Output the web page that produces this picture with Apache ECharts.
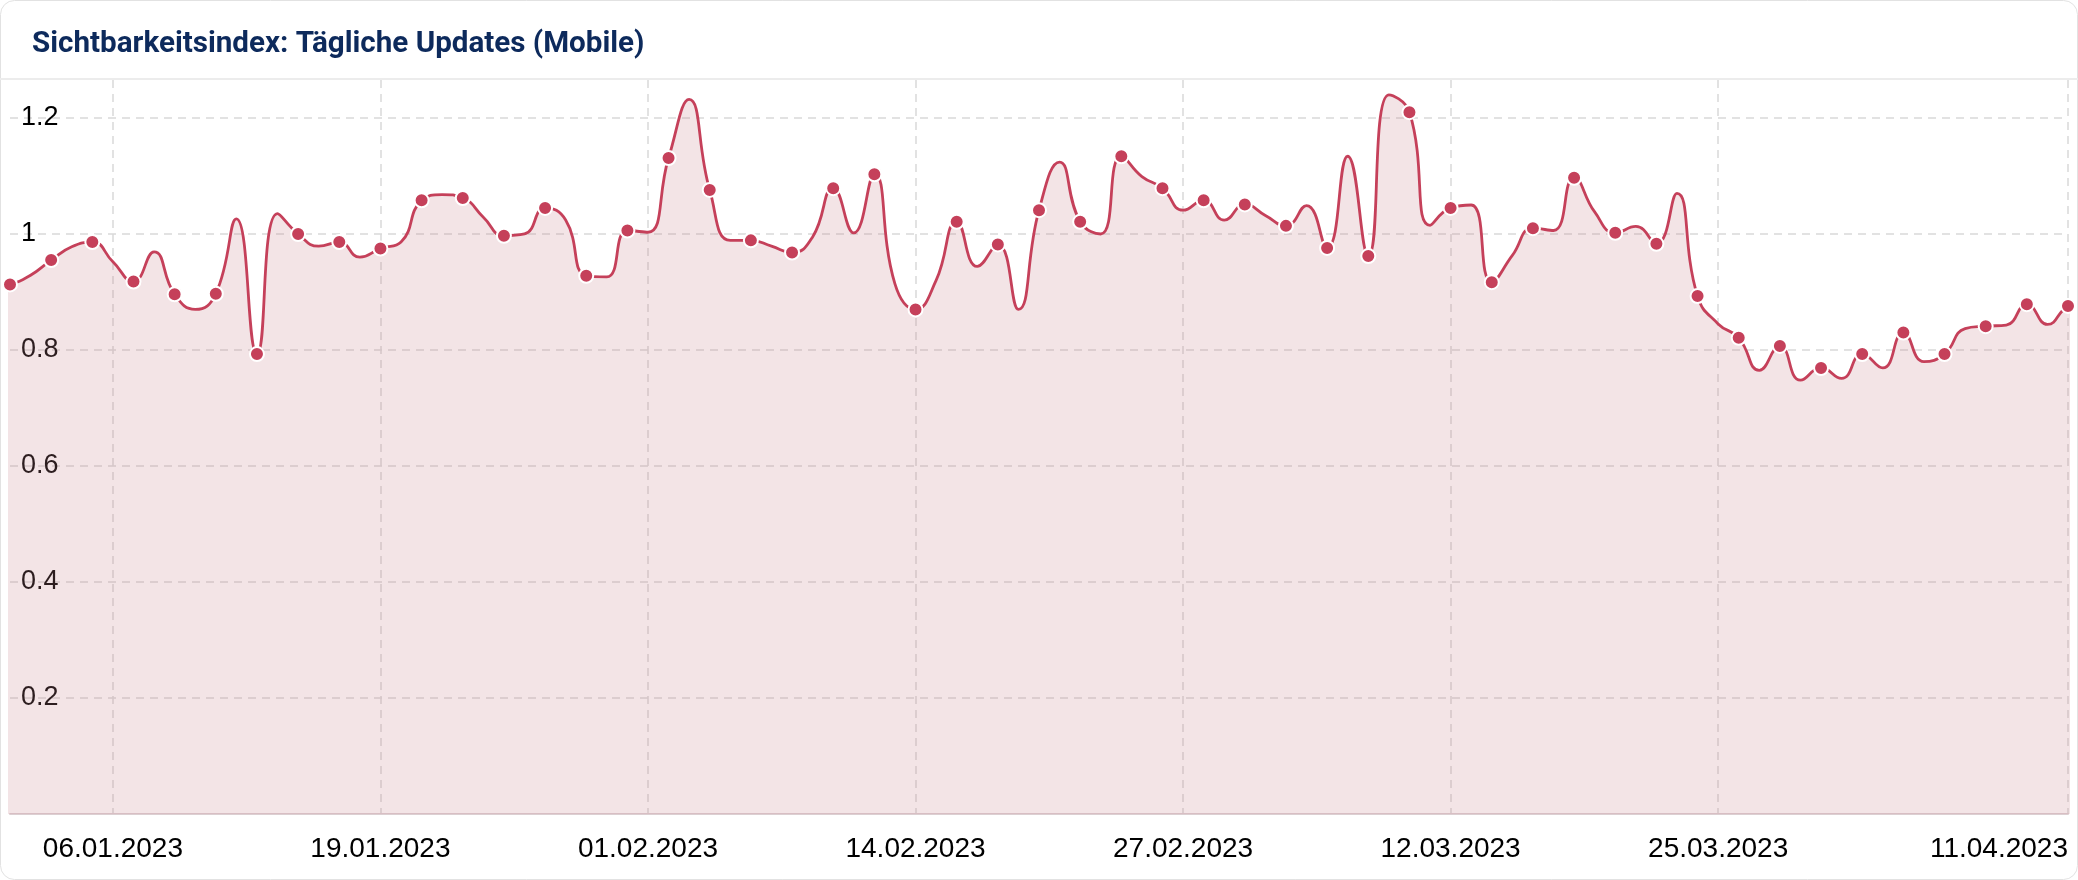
<!DOCTYPE html>
<html>
<head>
<meta charset="utf-8">
<script src="https://cdn.jsdelivr.net/npm/echarts@6/dist/echarts.min.js"></script>
<style>
html,body{margin:0;padding:0;background:#fff;}
#c{width:2078px;height:880px;}
</style>
</head>
<body>
<div id="c"></div>
<script>
const chartTitle = 'Sichtbarkeitsindex: Tägliche Updates (Mobile)';
// first value belongs to this date, one value per day
const firstDate = '31.12.2022';
const values = [
  0.905,
  0.913, 0.929, 0.955, 0.978, 0.986, 0.952, 0.918, 0.969, 0.896, 0.870,
  0.897, 1.026, 0.793, 1.035, 1.000, 0.979, 0.986, 0.960, 0.975, 0.986,
  1.058, 1.068, 1.062, 1.029, 0.997, 1.000, 1.045, 1.024, 0.928, 0.926,
  1.006, 1.003, 1.131, 1.232, 1.076, 0.989, 0.989, 0.979, 0.968, 0.995,
  1.079, 1.002, 1.103, 0.914, 0.870, 0.920, 1.021, 0.944, 0.982, 0.870,
  1.041, 1.124, 1.021, 1.000, 1.134, 1.099, 1.079, 1.041, 1.058, 1.024,
  1.051, 1.032, 1.014, 1.049, 0.976, 1.134, 0.962, 1.240, 1.210, 1.015,
  1.045, 1.050, 0.917, 0.963, 1.010, 1.006, 1.097, 1.038, 1.002, 1.013,
  0.983, 1.070, 0.893, 0.845, 0.821, 0.765, 0.807, 0.748, 0.769, 0.751,
  0.793, 0.769, 0.830, 0.780, 0.793, 0.837, 0.841, 0.843, 0.879, 0.844,
  0.876, 0.885
];
const axisStart = '01.01.2023';
const axisEnd = '11.04.2023';
const tickLabels = ['06.01.2023','19.01.2023','01.02.2023','14.02.2023','27.02.2023','12.03.2023','25.03.2023','11.04.2023'];
const yTicks = [0.2, 0.4, 0.6, 0.8, 1, 1.2];
const yMax = 1.2655;

function dayOf(s) {
  const p = s.split('.').map(Number);
  return Math.round((Date.UTC(p[2], p[1] - 1, p[0]) - Date.UTC(2023, 0, 1)) / 864e5);
}
const d0 = dayOf(firstDate);
const seriesData = values.map((v, i) => [d0 + i, v]);
const tickDays = tickLabels.map(dayOf);
const labelByDay = {};
tickLabels.forEach((t, i) => { labelByDay[tickDays[i]] = t; });

const RED = '#c5405a';
const chart = echarts.init(document.getElementById('c'), null, {renderer: 'canvas'});
chart.setOption({
  animation: false,
  backgroundColor: '#ffffff',
  title: {
    text: chartTitle,
    left: 27, top: 25,
    textStyle: {fontFamily: 'Roboto', fontWeight: 'bold', fontSize: 29.6, color: '#0d2a5c'}
  },
  graphic: [
    {type: 'rect', silent: true, z: -1,
     shape: {x: 0.5, y: 0.5, width: 2077, height: 879, r: 14},
     style: {fill: 'none', stroke: '#e2e2e2', lineWidth: 1}},
    {type: 'line', silent: true, z: -1,
     shape: {x1: 0, y1: 79, x2: 2078, y2: 79},
     style: {stroke: '#ececec', lineWidth: 2}}
  ],
  grid: {left: 10, right: 10, top: 80, bottom: 66, containLabel: false},
  xAxis: {
    type: 'value',
    min: dayOf(axisStart), max: dayOf(axisEnd),
    axisLine: {show: true, lineStyle: {color: '#dccfd2', width: 2}},
    axisTick: {show: false, customValues: tickDays},
    axisLabel: {
      customValues: tickDays,
      formatter: v => labelByDay[v] || '',
      fontFamily: 'Liberation Sans, Arial, sans-serif', fontSize: 28, color: '#000',
      margin: 21,
      alignMaxLabel: 'right'
    },
    splitLine: {show: true, lineStyle: {color: '#d9d9d9', width: 1.5, type: [8, 6]}}
  },
  yAxis: {
    type: 'value', min: 0, max: yMax,
    axisLine: {show: false},
    axisTick: {show: false, customValues: yTicks},
    axisLabel: {
      inside: true, margin: 11,
      customValues: yTicks,
      formatter: v => String(v),
      fontFamily: 'Liberation Sans, Arial, sans-serif', fontSize: 27, color: '#000'
    },
    splitLine: {show: true, lineStyle: {color: '#d9d9d9', width: 1.5, type: [8, 6]}}
  },
  series: [{
    type: 'line',
    data: seriesData,
    smooth: true,
    clip: false,
    symbol: 'circle',
    symbolSize: v => (v[0] % 2 === 0 ? 14 : 0),
    lineStyle: {color: RED, width: 2.8},
    itemStyle: {color: RED, borderColor: '#ffffff', borderWidth: 2},
    areaStyle: {color: 'rgba(200,132,143,0.32)'},
    emphasis: {disabled: true}
  }]
});
</script>
</body>
</html>
